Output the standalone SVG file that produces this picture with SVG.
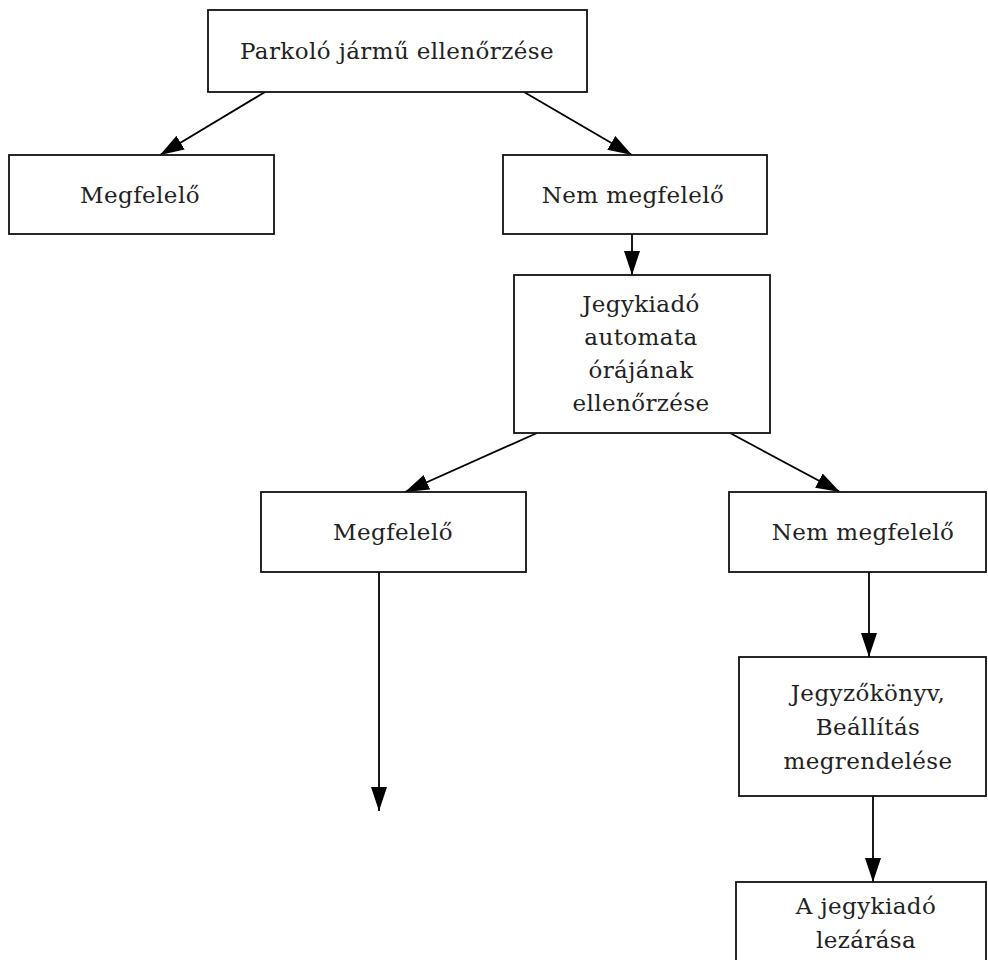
<svg xmlns="http://www.w3.org/2000/svg" width="988" height="960" viewBox="0 0 988 960">
<style>
.box{fill:#fff;stroke:#111;stroke-width:1.8}
.t{font-family:"DejaVu Serif","Liberation Serif",serif;font-size:23px;letter-spacing:0.4px;fill:#222;text-anchor:middle}
.c{stroke:#000;stroke-width:1.8;fill:none;marker-end:url(#ah)}
</style>
<defs>
<marker id="ah" markerUnits="userSpaceOnUse" markerWidth="26" markerHeight="18" refX="24" refY="8" orient="auto" viewBox="0 0 26 16">
<path d="M0,0 L24,8 L0,16 Z" fill="#000"/>
</marker>
</defs>
<rect width="988" height="960" fill="#fff"/>
<g id="connectors">
<line class="c" x1="265" y1="92" x2="160" y2="155"/>
<line class="c" x1="524" y1="92" x2="632" y2="155"/>
<line class="c" x1="632" y1="234" x2="632" y2="275"/>
<line class="c" x1="537" y1="433" x2="405" y2="492"/>
<line class="c" x1="730" y1="433" x2="840" y2="492"/>
<line class="c" x1="379" y1="572" x2="379" y2="811"/>
<line class="c" x1="869" y1="572" x2="869" y2="657"/>
<line class="c" x1="873" y1="796" x2="873" y2="882"/>
</g>
<g id="n1"><rect class="box" x="208" y="10" width="379" height="82"/><text class="t" x="397" y="59">Parkoló jármű ellenőrzése</text></g>
<g id="n2"><rect class="box" x="9" y="155" width="265" height="79"/><text class="t" x="140" y="203">Megfelelő</text></g>
<g id="n3"><rect class="box" x="503" y="155" width="264" height="79"/><text class="t" x="633" y="203">Nem megfelelő</text></g>
<g id="n4"><rect class="box" x="514" y="275" width="256" height="158"/><text class="t" x="641" y="312">Jegykiadó</text><text class="t" x="641" y="345">automata</text><text class="t" x="641" y="378">órájának</text><text class="t" x="641" y="411">ellenőrzése</text></g>
<g id="n5"><rect class="box" x="261" y="492" width="265" height="80"/><text class="t" x="393" y="540">Megfelelő</text></g>
<g id="n6"><rect class="box" x="729" y="492" width="257" height="80"/><text class="t" x="863" y="540">Nem megfelelő</text></g>
<g id="n7"><rect class="box" x="739" y="657" width="247" height="139"/><text class="t" x="868" y="701">Jegyzőkönyv,</text><text class="t" x="868" y="735">Beállítás</text><text class="t" x="868" y="769">megrendelése</text></g>
<g id="n8"><rect class="box" x="736" y="882" width="250" height="90"/><text class="t" x="866" y="914">A jegykiadó</text><text class="t" x="866" y="948">lezárása</text></g>
</svg>
